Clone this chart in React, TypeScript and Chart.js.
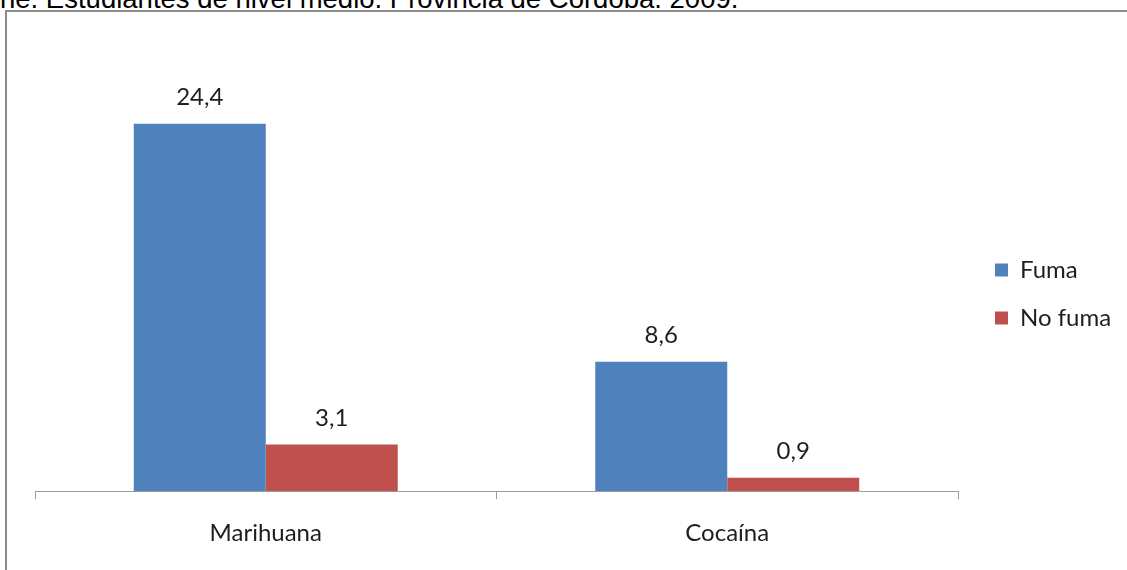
import React, { useEffect, useRef } from 'react';
import { Chart, registerables } from 'chart.js';

Chart.register(...registerables);

const categories = ['Marihuana', 'Cocaína'];
const seriesNames = ['Fuma', 'No fuma'];
const fumaValues = [24.4, 8.6];
const noFumaValues = [3.1, 0.9];
const seriesColors = ['#4F81BD', '#C0504D'];
const yMin = 0;
const yMax = 31.3;
const titleText = 'ne. Estudiantes de nivel medio. Provincia de Córdoba. 2009.';

const FONT = 'Lato, Calibri, Carlito, sans-serif';
const TEXT_COLOR = '#1e1e1e';
const AXIS_COLOR = '#9d9d9d';
const W = 1127;
const H = 570;

export default function App() {
  const ref = useRef<HTMLCanvasElement>(null);

  useEffect(() => {
    const canvas = ref.current as HTMLCanvasElement;
    const mctx = canvas.getContext('2d') as CanvasRenderingContext2D;
    const fontSize = 24;
    mctx.font = `${fontSize}px ${FONT}`;
    const textW = Math.max(...seriesNames.map((n) => mctx.measureText(n).width));
    const legendPad = 24;
    const boxW = 13;
    const legendWidth = legendPad + boxW + fontSize / 2 + textW + 10;
    const legendLeft = 971;
    const rightPad = Math.max(0, W - legendLeft - legendWidth);

    const dataLabels = {
      id: 'dataLabels',
      afterDatasetsDraw(chart: any) {
        const ctx = chart.ctx;
        ctx.save();
        ctx.font = `${fontSize}px ${FONT}`;
        ctx.fillStyle = TEXT_COLOR;
        ctx.textAlign = 'center';
        ctx.textBaseline = 'alphabetic';
        chart.data.datasets.forEach((ds: any, i: number) => {
          const meta = chart.getDatasetMeta(i);
          meta.data.forEach((el: any, j: number) => {
            const v = ds.data[j] as number;
            ctx.fillText(v.toFixed(1).replace('.', ','), el.x, el.y - 19);
          });
        });
        ctx.restore();
      },
    };

    const chart = new Chart(canvas, {
      type: 'bar',
      data: {
        labels: categories,
        datasets: [
          {
            label: seriesNames[0],
            data: fumaValues,
            backgroundColor: seriesColors[0],
            borderWidth: 0,
            categoryPercentage: 0.572,
            barPercentage: 1,
          },
          {
            label: seriesNames[1],
            data: noFumaValues,
            backgroundColor: seriesColors[1],
            borderWidth: 0,
            categoryPercentage: 0.572,
            barPercentage: 1,
          },
        ],
      },
      options: {
        responsive: false,
        animation: false,
        devicePixelRatio: 1,
        events: [],
        layout: {
          padding: { top: 20, bottom: 2, left: 35, right: rightPad },
        },
        plugins: {
          tooltip: { enabled: false },
          title: { display: false },
          legend: {
            display: true,
            position: 'right',
            align: 'center',
            labels: {
              boxWidth: boxW,
              boxHeight: boxW,
              padding: legendPad,
              color: TEXT_COLOR,
              font: { family: FONT, size: fontSize },
            },
          },
        },
        scales: {
          x: {
            offset: true,
            grid: {
              display: true,
              offset: true,
              drawOnChartArea: false,
              drawTicks: true,
              tickLength: 8,
              color: AXIS_COLOR,
              tickColor: AXIS_COLOR,
            },
            border: { display: true, color: AXIS_COLOR, width: 1 },
            ticks: {
              color: TEXT_COLOR,
              font: { family: FONT, size: fontSize },
              padding: 20,
            },
          },
          y: {
            position: 'right',
            display: true,
            min: yMin,
            max: yMax,
            grid: { display: false, drawTicks: false },
            border: { display: false },
            ticks: { display: false },
            afterFit: (scale: any) => {
              scale.width = 13;
            },
          },
        },
      },
      plugins: [dataLabels],
    });
    return () => chart.destroy();
  }, []);

  return (
    <div
      style={{
        position: 'fixed',
        left: 0,
        top: 0,
        width: W,
        height: H,
        overflow: 'hidden',
        background: '#ffffff',
      }}
    >
      <div
        style={{
          position: 'absolute',
          left: 0,
          top: -15,
          fontFamily: '"Liberation Sans", Arial, sans-serif',
          fontSize: '27.5px',
          lineHeight: '27.5px',
          whiteSpace: 'nowrap',
          color: '#000',
        }}
      >
        {titleText}
      </div>
      <div
        style={{
          position: 'absolute',
          left: 5,
          top: 10,
          width: 1300,
          height: 800,
          border: '2px solid #8c8c8c',
        }}
      />
      <canvas
        ref={ref}
        width={W}
        height={H}
        style={{ position: 'absolute', left: 0, top: 0, width: W, height: H }}
      />
    </div>
  );
}
